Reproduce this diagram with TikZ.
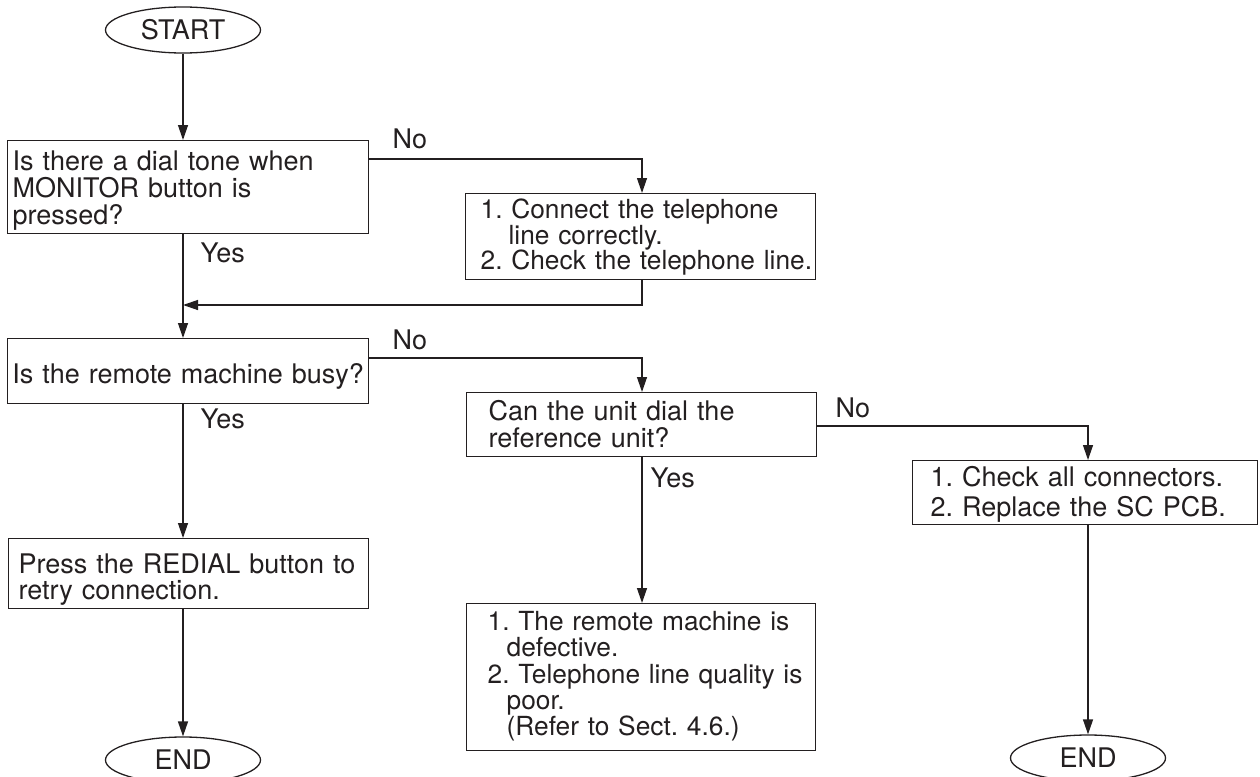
\documentclass[tikz,border=0pt]{standalone}
\usepackage{fontspec}
\setmainfont{TeX Gyre Heros}
\usetikzlibrary{shapes.geometric,arrows.meta}
\definecolor{ink}{RGB}{35,31,32}
\newcommand\flowfont[2]{\fontsize{#1}{#2}\selectfont\frenchspacing}
\begin{document}
\begin{tikzpicture}[x=1pt,y=-1pt,line width=1.3pt,color=ink,
  arr/.style={-{Triangle[length=15pt,width=10pt]}},
  term/.style={ellipse,draw,minimum width=155pt,minimum height=46pt,inner sep=0pt,font=\flowfont{27}{27}},
  box/.style={draw,rectangle,anchor=north west,align=left,inner ysep=0pt},
  lbl/.style={anchor=base west,inner sep=0pt,font=\flowfont{27}{27}}]
\useasboundingbox (0,0) rectangle (1260,776);

% terminals
\node[term] (start) at (183,30) {START};
\node[term] (end1) at (183,760) {END};
\node[term] (end2) at (1088,758) {END};

% boxes
\node[box,inner xsep=5pt,text width=351pt,text height=30pt,text depth=63pt,font=\flowfont{27}{26.7}] (b1) at (7,140)
  {\mbox{Is there a dial tone when}\\\mbox{MONITOR button is}\\\mbox{pressed?}};
\node[box,inner xsep=15pt,text width=320pt,text height=25pt,text depth=61pt,font=\flowfont{26.3}{25.5}] (b2) at (465,193)
  {\mbox{1. Connect the telephone}\\\mbox{\hspace*{28pt}line correctly.}\\\mbox{2. Check the telephone line.}};
\node[box,align=center,inner xsep=2pt,text width=357pt,text height=45pt,text depth=20pt,font=\flowfont{27}{27}] (b3) at (7,338)
  {\mbox{Is the remote machine busy?}};
\node[box,inner xsep=22pt,text width=306pt,text height=28pt,text depth=36pt,font=\flowfont{27}{27.3}] (b4) at (466,392)
  {\mbox{Can the unit dial the}\\\mbox{reference unit?}};
\node[box,inner xsep=18pt,text width=309pt,text height=26pt,text depth=38pt,font=\flowfont{27}{30}] (b5) at (912,460)
  {\mbox{1. Check all connectors.}\\\mbox{2. Replace the SC PCB.}};
\node[box,inner xsep=21pt,text width=307pt,text height=27pt,text depth=120pt,font=\flowfont{26.3}{26.3}] (b6) at (466,603)
  {\mbox{1. The remote machine is}\\\mbox{\hspace*{19pt}defective.}\\\mbox{2. Telephone line quality is}\\\mbox{\hspace*{19pt}poor.}\\\mbox{\hspace*{19pt}(Refer to Sect. 4.6.)}};
\node[box,inner xsep=10pt,text width=340pt,text height=35pt,text depth=35pt,font=\flowfont{27}{25.5}] (b7) at (8,538)
  {\mbox{Press the REDIAL button to}\\\mbox{retry connection.}};

% column coordinates
\coordinate (xL) at (183,0);
\coordinate (xM) at (642,0);
\coordinate (xR) at (1088,0);
\coordinate (r1) at (183,305);

% connectors
\draw[arr] (start.south) -- (start.south |- b1.north);
\draw[arr] (xL |- b1.south) -- (xL |- b3.north);
\draw[arr] (b1.north east) ++(0,19) -| (xM |- b2.north);
\draw[arr] (xM |- b2.south) |- (r1);
\draw[arr] (b3.north east) ++(0,20) -| (xM |- b4.north);
\draw[arr] (xL |- b3.south) -- (xL |- b7.north);
\draw[arr] (xL |- b7.south) -- (end1.north);
\draw[arr] (b4.north east) ++(0,34) -| (xR |- b5.north);
\draw[arr] (xM |- b4.south) -- (xM |- b6.north);
\draw[arr] (xR |- b5.south) -- (end2.north);

% labels
\node[lbl] (no1) at (392,148) {No};
\node[lbl] (no2) at (392,349) {No};
\node[lbl] (no3) at (835,417) {No};
\node[lbl] (yes1) at (200,262) {Yes};
\node[lbl] (yes2) at (200,428) {Yes};
\node[lbl] (yes3) at (650,487) {Yes};
\end{tikzpicture}
\end{document}
